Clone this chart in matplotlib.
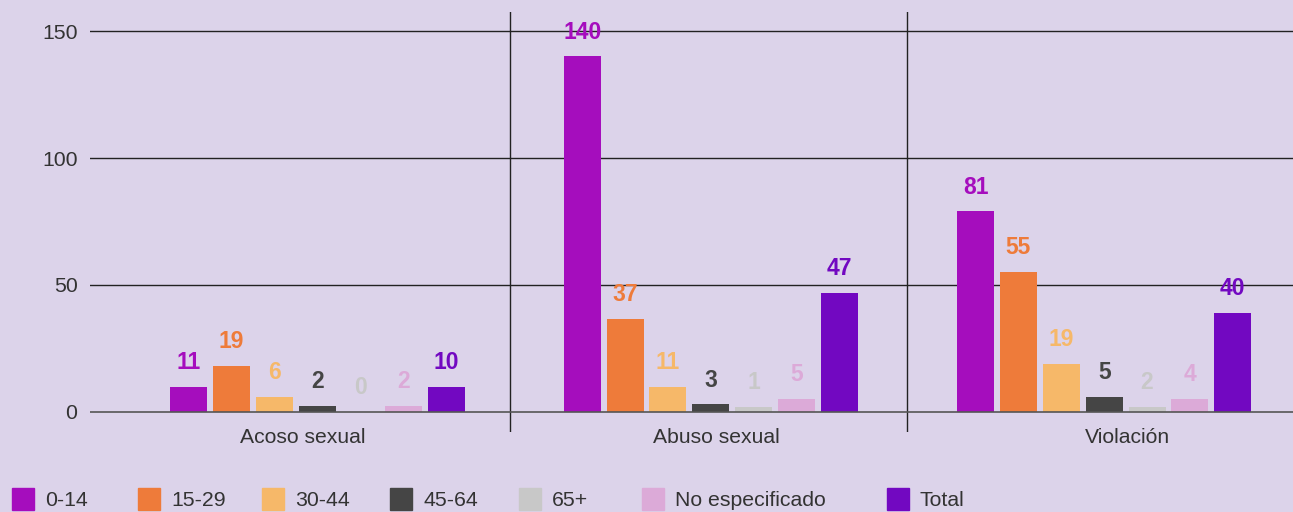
import numpy as np
import matplotlib.pyplot as plt
from matplotlib.patches import Rectangle

# --- Datos ---
categorias = ["Acoso sexual", "Abuso sexual", "Violación"]
grupos_edad = ["0-14", "15-29", "30-44", "45-64", "65+", "No especificado", "Total"]

# alturas de barra
acoso = [10, 18, 6, 2.5, 0, 2.5, 10]
abuso = [140, 36.5, 10, 3, 2, 5, 47]
violacion = [79, 55, 19, 6, 2, 5, 39]

# etiquetas que muestra el gráfico sobre cada barra
etq_acoso = ["11", "19", "6", "2", "0", "2", "10"]
etq_abuso = ["140", "37", "11", "3", "1", "5", "47"]
etq_violacion = ["81", "55", "19", "5", "2", "4", "40"]

colores = ["#a50dbd", "#ee7b3a", "#f6b869", "#454545", "#c8c8c8", "#dcaad8", "#7208c1"]
fondo = "#dcd3ea"

plt.rcParams['font.family'] = ['Liberation Sans', 'DejaVu Sans']

valores = [acoso, abuso, violacion]
etiquetas = [etq_acoso, etq_abuso, etq_violacion]

fig = plt.figure(figsize=(12.93, 5.12), dpi=100, facecolor=fondo)
ax = fig.add_axes([90 / 1293, 80 / 512, 1 - 90 / 1293, 420 / 512])
ax.set_facecolor(fondo)

paso = 0.109
ancho = 0.094
x = np.arange(len(categorias))

for j, grupo in enumerate(grupos_edad):
    alturas = [v[j] for v in valores]
    pos = x + (j - 3) * paso
    ax.bar(pos, alturas, width=ancho, color=colores[j], zorder=3)
    for xi, h, et in zip(pos, alturas, [e[j] for e in etiquetas]):
        ax.annotate(et, (xi, h), xytext=(0, 17.5), textcoords="offset points",
                    ha="center", va="center", fontsize=16.5, fontweight="bold",
                    color=colores[j], zorder=4)

# líneas de referencia
for yv in [50, 100, 150]:
    ax.axhline(yv, color="#222222", lw=1, zorder=1)
ax.axhline(0, color="#555555", lw=1.2, zorder=4)
for sep in [0.49, 1.5]:
    ax.axvline(sep, color="#222222", lw=1, zorder=1)

ax.set_xlim(-0.578, 2.48)
ax.set_ylim(-7.9, 157.5)
ax.set_yticks([0, 50, 100, 150])
ax.tick_params(axis="y", length=0, pad=9, labelsize=15.3, labelcolor="#333333")
ax.set_xticks([])
for s in ax.spines.values():
    s.set_visible(False)

for xi, cat, dx in zip(x, categorias, [-0.038, 0.013, 0.058]):
    ax.text(xi + dx, -10.2, cat, ha="center", va="center", fontsize=15.2,
            color="#333333", clip_on=False)

# leyenda manual
leg_x = [12, 138, 262, 390, 519, 642, 887]
for lx, c, g in zip(leg_x, colores, grupos_edad):
    fig.patches.append(Rectangle((lx / 1293, 2 / 512), 22 / 1293, 22 / 512,
                                 transform=fig.transFigure, color=c))
    fig.text((lx + 33) / 1293, 11 / 512, g, ha="left", va="center",
             fontsize=15.3, color="#333333")

fig.savefig("out.png", dpi=100, facecolor=fondo)
